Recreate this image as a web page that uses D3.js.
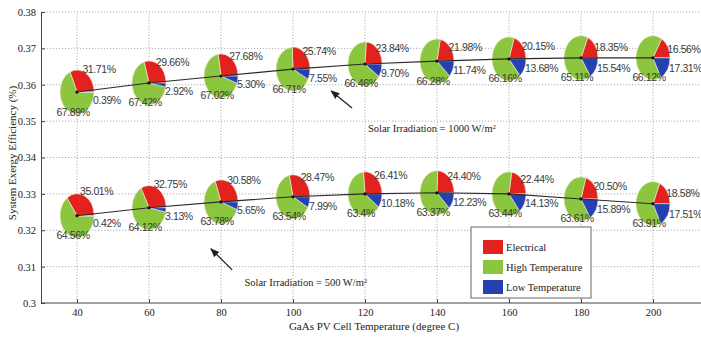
<!DOCTYPE html>
<html>
<head>
<meta charset="utf-8">
<script src="https://cdn.jsdelivr.net/npm/d3@7"></script>
<style>
  html, body { margin: 0; padding: 0; background: #fff; }
  svg { display: block; }
  .serif { font-family: "Liberation Serif", "DejaVu Serif", serif; fill: #222; }
  .pct { font-family: "Liberation Sans", Arial, sans-serif; font-size: 10.5px; fill: #3a3a3a; letter-spacing: -0.4px; }
</style>
</head>
<body>
<script>
// GaAs PV cell temperature (degree C)
const temps = [40, 60, 80, 100, 120, 140, 160, 180, 200];
const xTicks = [40, 60, 80, 100, 120, 140, 160, 180, 200];
const yTicks = [0.30, 0.31, 0.32, 0.33, 0.34, 0.35, 0.36, 0.37, 0.38];

// System exergy efficiency, solar irradiation = 1000 W/m2
const effHigh = [0.3580, 0.3605, 0.3624, 0.3643, 0.3657, 0.3665, 0.3671, 0.3674, 0.3674];
// System exergy efficiency, solar irradiation = 500 W/m2
const effLow = [0.3240, 0.3262, 0.3278, 0.3292, 0.3300, 0.3303, 0.3300, 0.3286, 0.3273];

// Exergy shares (%) at 1000 W/m2
const elecHigh = ["31.71", "29.66", "27.68", "25.74", "23.84", "21.98", "20.15", "18.35", "16.56"];
const hiTHigh  = ["67.89", "67.42", "67.02", "66.71", "66.46", "66.28", "66.16", "65.11", "66.12"];
const loTHigh  = ["0.39", "2.92", "5.30", "7.55", "9.70", "11.74", "13.68", "15.54", "17.31"];

// Exergy shares (%) at 500 W/m2
const elecLow = ["35.01", "32.75", "30.58", "28.47", "26.41", "24.40", "22.44", "20.50", "18.58"];
const hiTLow  = ["64.56", "64.12", "63.78", "63.54", "63.4", "63.37", "63.44", "63.61", "63.91"];
const loTLow  = ["0.42", "3.13", "5.65", "7.99", "10.18", "12.23", "14.13", "15.89", "17.51"];

const shareNames = ["Electrical", "High Temperature", "Low Temperature"];
const shareColors = ["#e3211d", "#8cc63f", "#2540b0"];

const W = 701, H = 341;
const svg = d3.select("body").append("svg").attr("width", W).attr("height", H);

const x = d3.scaleLinear().domain([30, 215]).range([41, 707]);
const y = d3.scaleLinear().domain([0.30, 0.38]).range([303, 12]);

// grid
const grid = svg.append("g").attr("stroke", "#9a9a9a").attr("stroke-width", 0.8)
  .attr("stroke-dasharray", "1.2,1.8");
grid.selectAll("line.h").data(yTicks.slice(1)).join("line")
  .attr("x1", x(30)).attr("x2", W).attr("y1", d => y(d)).attr("y2", d => y(d));
grid.selectAll("line.v").data(xTicks).join("line")
  .attr("y1", y(0.30)).attr("y2", y(0.38)).attr("x1", d => x(d)).attr("x2", d => x(d));

// axes
const xAxis = d3.axisBottom(x).tickValues(xTicks).tickSizeInner(-4).tickSizeOuter(0).tickPadding(6);
const yAxis = d3.axisLeft(y).tickValues(yTicks).tickSizeInner(-4).tickSizeOuter(0).tickPadding(5)
  .tickFormat(d => d3.format(".2~f")(d));
const gx = svg.append("g").attr("transform", `translate(0,${y(0.30)})`).call(xAxis);
const gy = svg.append("g").attr("transform", `translate(${x(30)},0)`).call(yAxis);
[gx, gy].forEach(g => {
  g.select(".domain").attr("stroke", "#444").attr("stroke-width", 1);
  g.selectAll(".tick line").attr("stroke", "#444");
  g.selectAll(".tick text").attr("class", "serif").style("font-size", "10.5px").attr("fill", "#222");
});
gx.select(".domain").attr("d", `M${x(30)},0H${W}`);

// axis titles
svg.append("text").attr("class", "serif").attr("x", 374).attr("y", 330)
  .attr("text-anchor", "middle").style("font-size", "11px")
  .text("GaAs PV Cell Temperature (degree C)");
svg.append("text").attr("class", "serif")
  .attr("transform", `translate(16,153) rotate(-90)`)
  .attr("text-anchor", "middle").style("font-size", "11px")
  .text("System Exergy Efficiency (%)");

// pies
const rx = 17, ry = 22;
const pie = d3.pie().sort(null).value(d => +d)
  .startAngle(Math.PI / 2).endAngle(Math.PI / 2 - 2 * Math.PI);
const arc = d3.arc().innerRadius(0).outerRadius(1);

const series = [
  { eff: effHigh, shares: [elecHigh, hiTHigh, loTHigh] },
  { eff: effLow, shares: [elecLow, hiTLow, loTLow] }
];

const pieLayer = svg.append("g");
const lineLayer = svg.append("g");
const labelLayer = svg.append("g");

series.forEach(s => {
  temps.forEach((t, i) => {
    const cx = x(t), cy = y(s.eff[i]);
    const vals = s.shares.map(a => a[i]);
    const arcs = pie(vals);
    const g = pieLayer.append("g").attr("transform", `translate(${cx},${cy}) scale(${rx},${ry})`);
    g.selectAll("path").data(arcs).join("path")
      .attr("d", arc)
      .attr("fill", (d, k) => shareColors[k])
      .attr("stroke", "#f4e9d8").attr("stroke-width", 0.6)
      .attr("vector-effect", "non-scaling-stroke");

    // labels
    arcs.forEach((d, k) => {
      const a = (d.startAngle + d.endAngle) / 2;
      let lx, ly, anchor;
      if (k === 0) {
        lx = cx + rx * (1.6 * Math.sin(a) - 0.55);
        ly = cy - ry * (1.8 * Math.cos(a) - 0.5);
        anchor = "start";
      } else if (k === 2) {
        lx = cx + 16;
        ly = cy + 8 + ry * 0.2 * Math.abs(Math.cos(a));
        anchor = "start";
      } else {
        lx = cx - 4;
        ly = cy + ry * 0.9;
        anchor = "middle";
      }
      labelLayer.append("text").attr("class", "pct")
        .attr("x", lx).attr("y", ly).attr("dy", "0.35em")
        .attr("text-anchor", anchor)
        .text(d.data + "%");
    });
  });

  const line = d3.line().x((d, i) => x(temps[i])).y(d => y(d));
  lineLayer.append("path").attr("d", line(s.eff))
    .attr("fill", "none").attr("stroke", "#2a2a2a").attr("stroke-width", 1.1);
  lineLayer.selectAll(null).data(s.eff).join("circle")
    .attr("cx", (d, i) => x(temps[i])).attr("cy", d => y(d)).attr("r", 1.6).attr("fill", "#111");
});

// annotations
svg.append("defs").append("marker").attr("id", "head")
  .attr("viewBox", "0 0 10 10").attr("refX", 9).attr("refY", 5)
  .attr("markerWidth", 7).attr("markerHeight", 7).attr("orient", "auto-start-reverse")
  .append("path").attr("d", "M0,1 L10,5 L0,9 Z").attr("fill", "#222");

const notes = [
  { from: [116.4, 0.3536], to: [110.6, 0.3583], at: [120.8, 0.3480], label: "Solar Irradiation = 1000 W/m" },
  { from: [83.1, 0.3091], to: [77.2, 0.3149], at: [86.5, 0.3057], label: "Solar Irradiation = 500 W/m" }
];
notes.forEach(n => {
  svg.append("line")
    .attr("x1", x(n.from[0])).attr("y1", y(n.from[1]))
    .attr("x2", x(n.to[0])).attr("y2", y(n.to[1]))
    .attr("stroke", "#222").attr("stroke-width", 1.3).attr("marker-end", "url(#head)");
  const tx = svg.append("text").attr("class", "serif").style("font-size", "10.5px")
    .attr("x", x(n.at[0])).attr("y", y(n.at[1])).attr("dy", "0.35em");
  tx.append("tspan").text(n.label);
  tx.append("tspan").attr("dy", "-0.45em").style("font-size", "7px").text("2");
});

// legend
const lg = svg.append("g").attr("transform", "translate(471,227)");
lg.append("rect").attr("width", 120).attr("height", 71).attr("fill", "#fff").attr("stroke", "#555").attr("stroke-width", 0.9);
shareNames.forEach((nm, k) => {
  const yy = 20 + k * 20;
  lg.append("rect").attr("x", 12).attr("y", yy - 7).attr("width", 20).attr("height", 14).attr("fill", shareColors[k]);
  lg.append("text").attr("class", "serif").style("font-size", "10.5px")
    .attr("x", 35).attr("y", yy).attr("dy", "0.35em").text(nm);
});
</script>
</body>
</html>
